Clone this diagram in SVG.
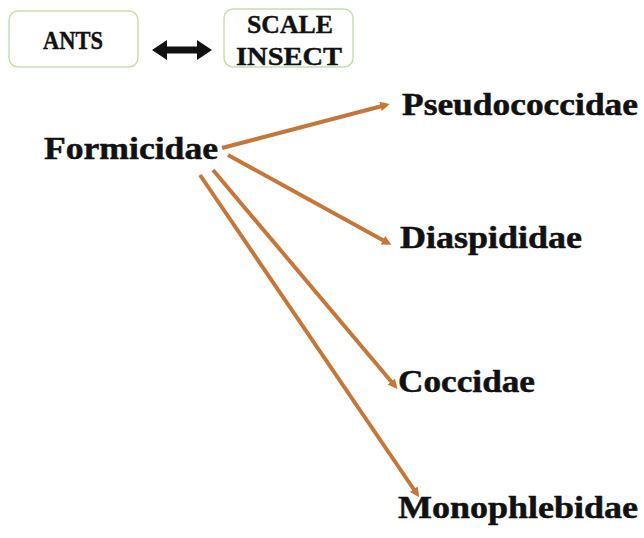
<svg xmlns="http://www.w3.org/2000/svg" width="644" height="538" viewBox="0 0 644 538">
<style>
.box{fill:#ffffff;stroke:#c8ddb4;stroke-width:1.5}
.bt{font-family:"Liberation Serif","Times New Roman",serif;font-weight:bold;fill:#111;stroke:#111;stroke-width:0.4;text-anchor:middle}
.lbl{font-family:"Liberation Serif","Times New Roman",serif;font-weight:bold;fill:#111;stroke:#111;stroke-width:0.5;font-size:31px}
.con{stroke:#c4773a;stroke-width:4;fill:none;marker-end:url(#ah)}
</style>
<defs>
<marker id="ah" viewBox="0 0 10 10" refX="6" refY="5" markerWidth="2.4" markerHeight="2.4" orient="auto">
<path d="M0,0 L10,5 L0,10 z" fill="#c4773a"/>
</marker>
</defs>
<rect width="644" height="538" fill="#ffffff"/>
<g id="ants">
<rect class="box" x="9" y="11" width="129" height="56" rx="9"/>
<text class="bt" x="73" y="49" font-size="25" textLength="60" lengthAdjust="spacingAndGlyphs">ANTS</text>
</g>
<g id="scale-insect">
<rect class="box" x="224" y="9" width="129" height="58" rx="9"/>
<text class="bt" x="290" y="33" font-size="26" textLength="86" lengthAdjust="spacingAndGlyphs">SCALE</text>
<text class="bt" x="289" y="65" font-size="26" textLength="106" lengthAdjust="spacingAndGlyphs">INSECT</text>
</g>
<g id="formicidae"><text class="lbl" x="44" y="159" font-size="34" textLength="174" lengthAdjust="spacingAndGlyphs">Formicidae</text></g>
<g id="pseudococcidae"><text class="lbl" x="402" y="115" textLength="236" lengthAdjust="spacingAndGlyphs">Pseudococcidae</text></g>
<g id="diaspididae"><text class="lbl" x="400" y="248" textLength="182" lengthAdjust="spacingAndGlyphs">Diaspididae</text></g>
<g id="coccidae"><text class="lbl" x="398" y="392" textLength="137" lengthAdjust="spacingAndGlyphs">Coccidae</text></g>
<g id="monophlebidae"><text class="lbl" x="398" y="518" textLength="240" lengthAdjust="spacingAndGlyphs">Monophlebidae</text></g>
<g id="connectors">
<path d="M152,50 L167,40 L167,46.5 L197,46.5 L197,40 L212,50 L197,60 L197,53.5 L167,53.5 L167,60 Z" fill="#111"/>
<line class="con" x1="222" y1="148" x2="386" y2="105"/>
<line class="con" x1="228" y1="155" x2="388" y2="243"/>
<line class="con" x1="213" y1="170" x2="395" y2="386"/>
<line class="con" x1="200" y1="175" x2="417" y2="494"/>
</g>
</svg>
